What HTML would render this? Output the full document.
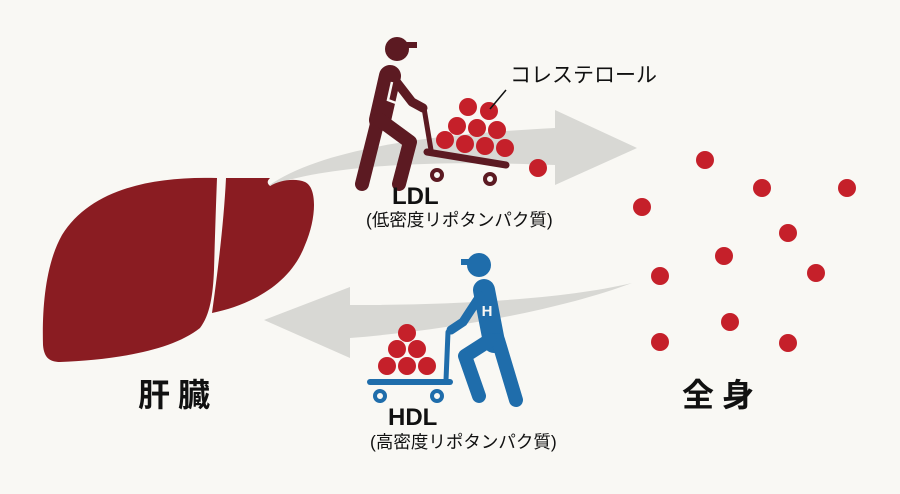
<!DOCTYPE html>
<html><head><meta charset="utf-8"><style>
body{margin:0;background:#f9f8f4;}
svg{display:block}
text{font-family:"Liberation Sans","Noto Sans CJK JP",sans-serif;}
</style></head><body>
<svg width="900" height="494" viewBox="0 0 900 494" xmlns="http://www.w3.org/2000/svg">
<rect width="900" height="494" fill="#f9f8f4"/>
<path d="M268 186 C320 150 420 135 555 128 L555 110 L637 148 L555 185 L555 165 C430 160 330 165 268 186 Z" fill="#d8d8d4"/>
<path d="M632 283 C560 300 450 305 350 305 L350 287 L264 320 L350 358 L350 338 C450 330 560 310 632 283 Z" fill="#d8d8d4"/>
<path d="M217 178 C150 176 90 190 62 235 C45 265 42 310 43 345 C44 358 50 362 60 362 C110 360 170 352 200 328 C210 315 213 295 214 270 C215 235 216 205 217 178 Z" fill="#8a1c22"/>
<path d="M226 178 L270 178 C266 182 268 184 270 186 C280 180 295 178 305 182 C318 188 316 220 305 245 C290 285 250 305 212 313 C218 270 224 220 226 178 Z" fill="#8a1c22"/>
<g fill="#c5202a">
<circle cx="538" cy="168" r="9"/><circle cx="705" cy="160" r="9"/><circle cx="762" cy="188" r="9"/><circle cx="847" cy="188" r="9"/><circle cx="642" cy="207" r="9"/><circle cx="788" cy="233" r="9"/><circle cx="724" cy="256" r="9"/><circle cx="660" cy="276" r="9"/><circle cx="816" cy="273" r="9"/><circle cx="730" cy="322" r="9"/><circle cx="660" cy="342" r="9"/><circle cx="788" cy="343" r="9"/>
</g>
<g stroke="#5c1a22" stroke-linecap="round" stroke-linejoin="round" fill="none">
<circle cx="397" cy="49" r="12" fill="#5c1a22" stroke="none"/>
<rect x="403" y="42" width="14" height="6" fill="#5c1a22" stroke="none"/>
<path d="M390 76 L380 120" stroke-width="22"/>
<path d="M395 80 L412 102 L423 108" stroke-width="9"/>
<path d="M378 120 L362 184" stroke-width="14"/>
<path d="M380 120 L410 142 L399 184" stroke-width="14"/>
<path d="M424 108 L431 150" stroke-width="5"/>
<path d="M427 152 L506 165" stroke-width="7"/>
<circle cx="437" cy="175" r="5" stroke-width="4"/>
<circle cx="490" cy="179" r="5" stroke-width="4"/>
</g>
<path d="M392 82 L388 100 L396 103" stroke="#f9f8f4" stroke-width="2.5" fill="none"/>
<g fill="#c5202a">
<circle cx="468" cy="107" r="9"/><circle cx="489" cy="111" r="9"/>
<circle cx="457" cy="126" r="9"/><circle cx="477" cy="128" r="9"/><circle cx="497" cy="130" r="9"/>
<circle cx="445" cy="140" r="9"/><circle cx="465" cy="144" r="9"/><circle cx="485" cy="146" r="9"/><circle cx="505" cy="148" r="9"/>
</g>
<path d="M490 109 L506 90" stroke="#111" stroke-width="1.5"/>
<g stroke="#1f6dab" stroke-linecap="round" stroke-linejoin="round" fill="none">
<circle cx="479" cy="265" r="12" fill="#1f6dab" stroke="none"/>
<rect x="461" y="259" width="14" height="6" fill="#1f6dab" stroke="none"/>
<path d="M484 290 L494 342" stroke-width="22"/>
<path d="M480 296 L463 322 L451 330" stroke-width="9"/>
<path d="M498 340 L516 400" stroke-width="14"/>
<path d="M490 340 L465 356 L479 396" stroke-width="14"/>
<path d="M448 332 L446 380" stroke-width="5"/>
<path d="M370 382 L450 382" stroke-width="6"/>
<circle cx="380" cy="396" r="5" stroke-width="4"/>
<circle cx="437" cy="396" r="5" stroke-width="4"/>
</g>
<text x="487" y="316" font-size="15" font-weight="bold" fill="#f9f8f4" text-anchor="middle">H</text>
<g fill="#c5202a">
<circle cx="407" cy="333" r="9"/><circle cx="397" cy="349" r="9"/><circle cx="417" cy="349" r="9"/>
<circle cx="387" cy="366" r="9"/><circle cx="407" cy="366" r="9"/><circle cx="427" cy="366" r="9"/>
</g>
<text x="510" y="82" font-size="21" fill="#111">コレステロール</text>
<text x="392" y="204" font-size="24" font-weight="bold" fill="#111">LDL</text>
<text x="366" y="226" font-size="17.5" fill="#111">(低密度リポタンパク質)</text>
<text x="388" y="425" font-size="24" font-weight="bold" fill="#111">HDL</text>
<text x="370" y="448" font-size="17.5" fill="#111">(高密度リポタンパク質)</text>
<text x="138" y="406" font-size="32" font-weight="bold" fill="#111" letter-spacing="8">肝臓</text>
<text x="682" y="406" font-size="32" font-weight="bold" fill="#111" letter-spacing="8">全身</text>
</svg>
</body></html>
